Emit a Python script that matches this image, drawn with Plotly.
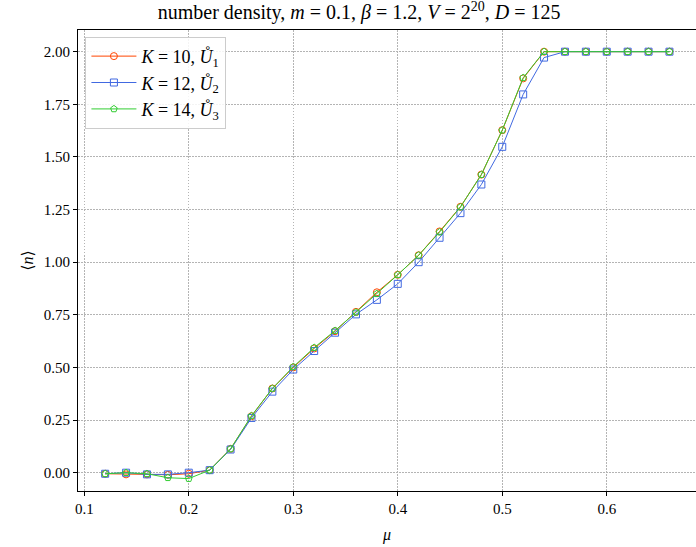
import plotly.graph_objects as go

mu = [0.12, 0.14, 0.16, 0.18, 0.20, 0.22, 0.24, 0.26, 0.28, 0.30, 0.32, 0.34, 0.36, 0.38,
      0.40, 0.42, 0.44, 0.46, 0.48, 0.50, 0.52, 0.54, 0.56, 0.58, 0.60, 0.62, 0.64, 0.66]

n_K10 = [-0.005, -0.008, -0.008, -0.010, -0.005, 0.012, 0.113, 0.268, 0.400, 0.500, 0.590, 0.672,
         0.764, 0.857, 0.940, 1.033, 1.146, 1.263, 1.416, 1.627, 1.873, 2.000, 2.000, 2.000,
         2.000, 2.000, 2.000, 2.000]
n_K12 = [-0.005, 0.000, -0.008, -0.008, 0.000, 0.012, 0.110, 0.260, 0.385, 0.490, 0.578, 0.665,
         0.752, 0.821, 0.897, 1.000, 1.116, 1.233, 1.369, 1.548, 1.797, 1.972, 2.000, 2.000,
         2.000, 2.000, 2.000, 2.000]
n_K14 = [-0.005, 0.000, -0.005, -0.024, -0.028, 0.012, 0.113, 0.270, 0.400, 0.503, 0.594, 0.675,
         0.762, 0.850, 0.940, 1.033, 1.143, 1.262, 1.416, 1.627, 1.876, 2.000, 2.000, 2.000,
         2.000, 2.000, 2.000, 2.000]

series = [
    ("<i>K</i> = 10, <i>Ů</i><sub>1</sub>", n_K10, "#ff4500", "circle-open"),
    ("<i>K</i> = 12, <i>Ů</i><sub>2</sub>", n_K12, "#4169e1", "square-open"),
    ("<i>K</i> = 14, <i>Ů</i><sub>3</sub>", n_K14, "#32cd32", "pentagon-open"),
]

FONT = "Liberation Serif, DejaVu Serif, serif"

fig = go.Figure()
for name, ys, col, sym in series:
    fig.add_trace(go.Scatter(
        x=mu, y=ys, name=name, mode="lines+markers",
        line=dict(color=col, width=1),
        marker=dict(symbol=sym, size=7, color=col, line=dict(width=1, color=col)),
    ))

fig.update_layout(
    width=696, height=547,
    margin=dict(l=78, r=0, t=30, b=56),
    paper_bgcolor="white", plot_bgcolor="white",
    font=dict(family=FONT, size=14, color="black"),
    title=dict(
        text="number density, <i>m</i> = 0.1, <i>β</i> = 1.2, <i>V</i> = 2<sup>20</sup>, <i>D</i> = 125",
        x=0.516, xanchor="center", y=0.99, yanchor="top",
        font=dict(family=FONT, size=20, color="black"),
    ),
    showlegend=True,
    legend=dict(
        x=0.012, y=0.985, xanchor="left", yanchor="top",
        bgcolor="rgba(255,255,255,0.85)", bordercolor="#cccccc", borderwidth=1,
        font=dict(family=FONT, size=18, color="black"),
        itemwidth=45, tracegroupgap=4,
    ),
)

GRIDDASH = "1.5px,1.5px"

fig.update_xaxes(
    range=[0.094, 0.6854],
    tickvals=[0.1, 0.2, 0.3, 0.4, 0.5, 0.6],
    ticktext=["0.1", "0.2", "0.3", "0.4", "0.5", "0.6"],
    ticks="outside", ticklen=4, tickwidth=1, tickcolor="black",
    showline=True, linecolor="black", linewidth=1.2, mirror=True,
    showgrid=True, gridcolor="#b4b4b4", griddash=GRIDDASH, gridwidth=0.8,
    zeroline=False,
    tickfont=dict(family=FONT, size=15),
    title=dict(text="<i>μ</i>", font=dict(family=FONT, size=16), standoff=12),
)
fig.update_yaxes(
    range=[-0.087, 2.103],
    tickvals=[0.0, 0.25, 0.5, 0.75, 1.0, 1.25, 1.5, 1.75, 2.0],
    ticktext=["0.00", "0.25", "0.50", "0.75", "1.00", "1.25", "1.50", "1.75", "2.00"],
    ticks="outside", ticklen=4, tickwidth=1, tickcolor="black",
    showline=True, linecolor="black", linewidth=1.2, mirror=False,
    showgrid=True, gridcolor="#b4b4b4", griddash=GRIDDASH, gridwidth=0.8,
    zeroline=False,
    tickfont=dict(family=FONT, size=15),
    title=dict(text="⟨<i>n</i>⟩", font=dict(family=FONT, size=16), standoff=6),
)

fig.write_html("out.html")
